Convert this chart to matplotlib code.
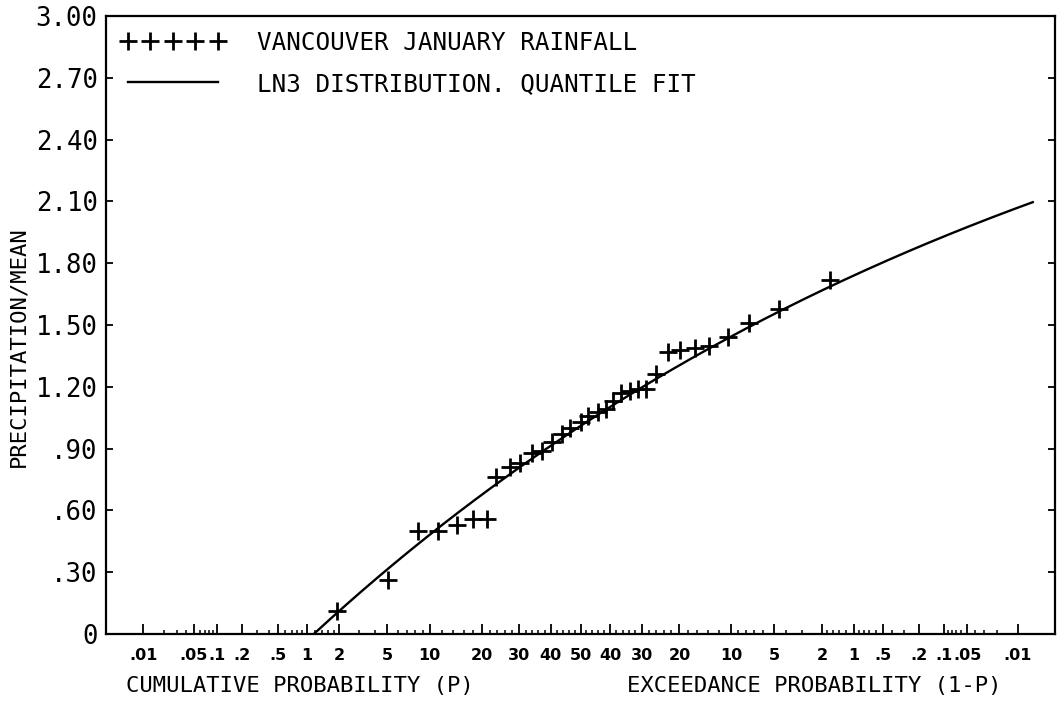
from statistics import NormalDist

import numpy as np
import matplotlib
matplotlib.use("Agg")
from matplotlib import pyplot as plt

# Vancouver January rainfall: plotting position (cumulative %, P) and precipitation / mean
cum_pct = [1.9, 5.1, 8.3, 11.3, 14.7, 18.0, 21.3, 23.6, 27.5, 30.4, 34.0,
           37.2, 40.4, 43.8, 46.5, 50.2, 52.5, 55.9, 58.6, 60.9, 63.5,
           66.3, 68.8, 71.1, 74.0, 77.2, 80.1, 83.5, 86.3, 89.5, 92.4,
           95.4, 98.3]
precip_ratio = [0.11, 0.26, 0.50, 0.50, 0.53, 0.56, 0.56, 0.76, 0.81, 0.83,
                0.88, 0.89, 0.93, 0.97, 1.00, 1.03, 1.06, 1.08, 1.09, 1.13,
                1.17, 1.18, 1.19, 1.19, 1.26, 1.37, 1.38, 1.39, 1.40, 1.44,
                1.51, 1.58, 1.72]

# LN3 quantile fit (location, scale, shape)
ln3_xi, ln3_alpha, ln3_k = 1.01, 0.373, 0.152
curve_pct_range = (0.005, 99.994)

# probability axis labels
tick_pct = [0.01, 0.05, 0.1, 0.2, 0.5, 1, 2, 5, 10, 20, 30, 40, 50,
            60, 70, 80, 90, 95, 98, 99, 99.5, 99.8, 99.9, 99.95, 99.99]
tick_text = [".01", ".05", ".1", ".2", ".5", "1", "2", "5", "10", "20", "30", "40", "50",
             "40", "30", "20", "10", "5", "2", "1", ".5", ".2", ".1", ".05", ".01"]
y_ticks = [0, 0.3, 0.6, 0.9, 1.2, 1.5, 1.8, 2.1, 2.4, 2.7, 3.0]
y_text = ["0", ".30", ".60", ".90", "1.20", "1.50", "1.80", "2.10", "2.40", "2.70", "3.00"]

norm = NormalDist()


def z_of(pct):
    return norm.inv_cdf(pct / 100.0)


def ln3_quantile(z):
    return ln3_xi + ln3_alpha / ln3_k * (1.0 - np.exp(-ln3_k * z))


mono = "DejaVu Sans Mono"
plt.rcParams["font.family"] = mono

fig = plt.figure(figsize=(10.58, 7.08), dpi=100)
ax = fig.add_axes([106 / 1058, 74 / 708, 949 / 1058, 618 / 708])

zs = np.array([z_of(p) for p in cum_pct])
ax.plot(zs, precip_ratio, linestyle="none", marker="+", markersize=13,
        markeredgewidth=2.0, color="black", label="VANCOUVER JANUARY RAINFALL",
        clip_on=False)

zc = np.linspace(z_of(curve_pct_range[0]), z_of(curve_pct_range[1]), 400)
ax.plot(zc, ln3_quantile(zc), color="black", linewidth=1.7,
        label="LN3 DISTRIBUTION. QUANTILE FIT")

ax.set_xlim(-4.035, 4.035)
ax.set_ylim(0, 3.0)

# minor probability ticks, mirrored about 50 %
lower_minor = ([round(0.01 * i, 2) for i in range(2, 10) if i != 5]
               + [round(0.1 * i, 1) for i in range(3, 10) if i != 5]
               + [1.2, 1.4, 1.6, 1.8]
               + [i for i in range(3, 10) if i != 5]
               + [i for i in range(12, 50, 2) if i not in (20, 30, 40)])
minor_pct = lower_minor + [100 - p for p in lower_minor]
ax.set_xticks([z_of(p) for p in tick_pct])
ax.set_xticklabels(tick_text, fontfamily="DejaVu Sans", fontweight="bold", fontsize=11.5)
ax.set_xticks([z_of(p) for p in minor_pct], minor=True)
ax.tick_params(axis="x", which="major", direction="in", length=7, width=1.3, pad=10)
ax.tick_params(axis="x", which="minor", direction="in", length=3, width=1.1)

ax.set_yticks(y_ticks)
ax.set_yticklabels(y_text, fontsize=18.5)
ax.tick_params(axis="y", which="major", direction="in", length=5, width=1.3,
               pad=6, right=True)

for side in ax.spines.values():
    side.set_linewidth(1.6)

fig.text(18 / 1058, 1 - 347 / 708, "PRECIPITATION/MEAN", rotation=90,
         ha="center", va="center", fontsize=16)
fig.text(300 / 1058, 1 - 686 / 708, "CUMULATIVE PROBABILITY (P)",
         ha="center", va="center", fontsize=16)
fig.text(814 / 1058, 1 - 686 / 708, "EXCEEDANCE PROBABILITY (1-P)",
         ha="center", va="center", fontsize=16)

ax.legend(loc="upper left", bbox_to_anchor=(0.0, 1.0), frameon=False,
          numpoints=5, handlelength=4.3, handletextpad=1.3, labelspacing=0.7,
          borderaxespad=0.2, prop={"family": mono, "size": 17.5})

fig.savefig("out.png", dpi=100, facecolor="white")
